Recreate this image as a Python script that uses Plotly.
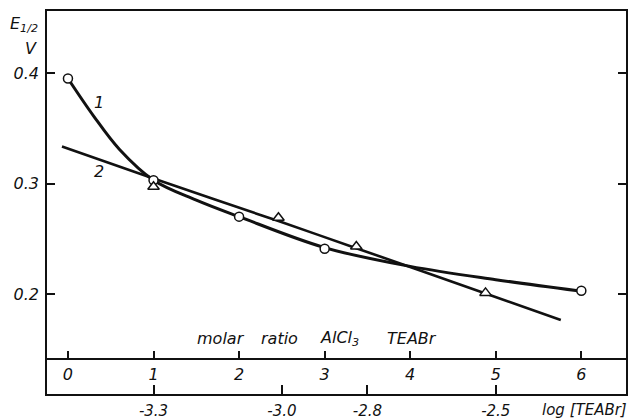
import plotly.graph_objects as go

# ---------------- data ----------------
# curve 1 : measured points (open circles)
c1_ratio = [0, 1, 2, 3, 6]
c1_e = [0.395, 0.303, 0.270, 0.241, 0.203]
# curve 1 : drawn smooth line
c1_line_ratio = [0, 0.3, 0.6, 1.0, 1.5, 2.0, 3.0, 4.0, 5.0, 5.96]
c1_line_e = [0.395, 0.361, 0.331, 0.303, 0.285, 0.270, 0.242, 0.225, 0.213, 0.203]

# curve 2 : measured points (open triangles)
c2_ratio = [1, 2.46, 3.37, 4.88]
c2_e = [0.297, 0.269, 0.243, 0.201]
# curve 2 : drawn line
c2_line_ratio = [-0.07, 1.0, 2.46, 3.37, 4.88, 5.76]
c2_line_e = [0.3335, 0.3045, 0.266, 0.2415, 0.2005, 0.1765]

# axes
ratio_ticks = [0, 1, 2, 3, 4, 5, 6]
ratio_ticktext = ["0", "1", "2", "3", "4", "5", "6"]
log_ticks = [-3.3, -3.0, -2.8, -2.5]
log_ticktext = ["-3.3", "-3.0", "-2.8", "-2.5"]
e_ticks = [0.2, 0.3, 0.4]
e_ticktext = ["0.2", "0.3", "0.4"]
ratio_title_words = ["molar", "ratio", "AlCl<sub>3</sub>", "TEABr"]

# relation between the two scales (read at matching ticks: ratio 1 <-> -3.3, ratio 5 <-> -2.5)
ratio_ref = [1, 5]
log_ref = [-3.3, -2.5]
slope = (log_ref[1] - log_ref[0]) / (ratio_ref[1] - ratio_ref[0])


def ratio_to_log(r):
    return log_ref[0] + (r - ratio_ref[0]) * slope


ratio_range = [-0.245, 6.522]
e_range = [0.1421, 0.4561]

# ---------------- figure ----------------
INK = "#111111"
FONT = "DejaVu Sans"
W, H = 632, 420


def px(xp):                  # pixel -> paper x
    return xp / W


def py(yp):                  # pixel -> paper y
    return 1 - yp / H


fig = go.Figure()

fig.add_trace(go.Scatter(x=c1_line_ratio, y=c1_line_e, mode="lines",
                         line=dict(color=INK, width=3, shape="spline", smoothing=1.0),
                         hoverinfo="skip", showlegend=False))
fig.add_trace(go.Scatter(x=c2_line_ratio, y=c2_line_e, mode="lines",
                         line=dict(color=INK, width=2.6, shape="spline", smoothing=0.6),
                         hoverinfo="skip", showlegend=False))
fig.add_trace(go.Scatter(x=c1_ratio, y=c1_e, mode="markers",
                         marker=dict(symbol="circle", size=9, color="white",
                                     line=dict(color=INK, width=1.5)),
                         showlegend=False))
fig.add_trace(go.Scatter(x=c2_ratio, y=c2_e, mode="markers",
                         marker=dict(symbol="triangle-up", size=10, color="white",
                                     line=dict(color=INK, width=1.5)),
                         showlegend=False))

x_dom = [px(47), px(626)]
y_dom = [py(358), py(11)]
y2_dom = [py(394), py(358)]

tickfont = dict(family=FONT, size=16, color=INK, style="italic")

fig.update_layout(
    width=W, height=H,
    margin=dict(l=0, r=0, t=0, b=0, autoexpand=False),
    paper_bgcolor="white", plot_bgcolor="white",
    showlegend=False,
    xaxis=dict(domain=x_dom, anchor="y", range=ratio_range, automargin=False,
               tickvals=ratio_ticks, ticktext=ratio_ticktext,
               ticks="inside", ticklen=7, tickwidth=1.5, tickcolor=INK,
               showline=True, linecolor=INK, linewidth=1.5, mirror=True,
               showgrid=False, zeroline=False, tickfont=tickfont,
               ticklabelstandoff=1),
    yaxis=dict(domain=y_dom, anchor="x", range=e_range, automargin=False,
               tickvals=e_ticks, ticktext=e_ticktext,
               ticks="inside", ticklen=8, tickwidth=1.5, tickcolor=INK,
               showline=True, linecolor=INK, linewidth=1.5, mirror="ticks",
               showgrid=False, zeroline=False, tickfont=tickfont,
               ticklabelstandoff=3),
    xaxis2=dict(domain=x_dom, anchor="y2", automargin=False,
                range=[ratio_to_log(ratio_range[0]), ratio_to_log(ratio_range[1])],
                tickvals=log_ticks, ticktext=log_ticktext,
                ticks="inside", ticklen=9, tickwidth=1.5, tickcolor=INK,
                showline=True, linecolor=INK, linewidth=1.5, mirror=False,
                showgrid=False, zeroline=False,
                tickfont=dict(family=FONT, size=15, color=INK, style="italic"),
                ticklabelstandoff=2),
    yaxis2=dict(domain=y2_dom, anchor="x2", range=[0, 1], automargin=False,
                showticklabels=False, ticks="",
                showline=True, linecolor=INK, linewidth=1.5, mirror=True,
                showgrid=False, zeroline=False),
)

# an invisible trace so that the second axis pair is drawn
fig.add_trace(go.Scatter(x=[ratio_to_log(0)], y=[0.5], xaxis="x2", yaxis="y2",
                         mode="markers", marker=dict(opacity=0), hoverinfo="skip",
                         showlegend=False))

ann_font = dict(family=FONT, size=16, color=INK, style="italic")
fig.add_annotation(x=0.36, y=0.373, xref="x", yref="y", text="1", showarrow=False,
                   font=ann_font)
fig.add_annotation(x=0.36, y=0.311, xref="x", yref="y", text="2", showarrow=False,
                   font=ann_font)
for word, centre in zip(ratio_title_words, [221, 279, 339, 412]):
    fig.add_annotation(x=px(centre), y=py(338), xref="paper", yref="paper",
                       xanchor="center", yanchor="middle", showarrow=False,
                       text=word, font=ann_font)
fig.add_annotation(x=px(629), y=py(410), xref="paper", yref="paper",
                   xanchor="right", yanchor="middle", showarrow=False,
                   text="log [TEABr]", font=dict(family=FONT, size=15, color=INK, style="italic"))
fig.add_annotation(x=px(8), y=py(24), xref="paper", yref="paper",
                   xanchor="left", yanchor="middle", showarrow=False,
                   text="E<sub>1/2</sub>", font=ann_font)
fig.add_annotation(x=px(31), y=py(48), xref="paper", yref="paper",
                   xanchor="center", yanchor="middle", showarrow=False,
                   text="V", font=ann_font)

fig.write_html(
    "out.html",
    config={"displayModeBar": False},
    post_script="document.body.style.margin='0';document.body.style.overflow='hidden';",
)
